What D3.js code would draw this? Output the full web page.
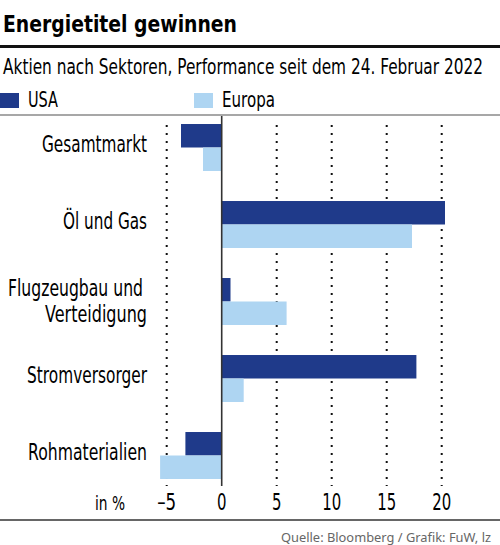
<!DOCTYPE html>
<html>
<head>
<meta charset="utf-8">
<script src="https://cdn.jsdelivr.net/npm/d3@7"></script>
<style>
  body { margin: 0; background: #fff; }
  svg { display: block; }
  .cond { font-family: "DejaVu Sans", sans-serif; }
</style>
</head>
<body>
<div id="chart"></div>
<script>
// data
var categories = ["Gesamtmarkt", "Öl und Gas", "Flugzeugbau und Verteidigung", "Stromversorger", "Rohmaterialien"]
var usa = [-3.7, 20.3, 0.8, 17.7, -3.3]
var europa = [-1.7, 17.3, 5.9, 2.0, -5.6]
var series = ["USA", "Europa"]
var ticks = [-5, 0, 5, 10, 15, 20]

var width = 500,
    height = 545

var colors = { USA: "#1f3a8a", Europa: "#aed5f2" }

// no condensed font installed, so squeeze text to the widths seen in the original
function squeeze(sel, w) {
  sel.attr("textLength", w).attr("lengthAdjust", "spacingAndGlyphs")
}

var svg = d3.select("#chart")
  .append("svg")
    .attr("width", width)
    .attr("height", height)

// title + rules
svg.append("text")
  .attr("class", "cond")
  .attr("x", 3).attr("y", 32)
  .attr("font-size", 23).attr("font-weight", "bold")
  .text("Energietitel gewinnen")
  .call(squeeze, 234)

svg.append("rect").attr("x", 0).attr("y", 45).attr("width", width).attr("height", 3).attr("fill", "#111")

svg.append("text")
  .attr("class", "cond")
  .attr("x", 3).attr("y", 74)
  .attr("font-size", 20.5)
  .text("Aktien nach Sektoren, Performance seit dem 24. Februar 2022")
  .call(squeeze, 480)

// legend
var legX = [0, 194]
var legW = [30, 53]
series.forEach(function(s, i){
  svg.append("rect").attr("x", legX[i]).attr("y", 93).attr("width", 19).attr("height", 15).attr("fill", colors[s])
  svg.append("text").attr("class", "cond")
    .attr("x", legX[i] + 28).attr("y", 107)
    .attr("font-size", 20.5)
    .text(s)
    .call(squeeze, legW[i])
})

svg.append("line").attr("x1", 0).attr("x2", width).attr("y1", 115).attr("y2", 115)
  .attr("stroke", "#8a8a8a").attr("stroke-width", 1.5)

// scales
var x = d3.scaleLinear().domain([-5, 20]).range([166.7, 441.7])
var y = d3.scaleBand().domain(categories).range([109, 494]).paddingInner(0.39).paddingOuter(0.195)
var ySub = d3.scaleBand().domain(series).range([0, y.bandwidth()])

// dotted grid
svg.append("g")
  .selectAll("line")
  .data(ticks.filter(d => d !== 0))
  .join("line")
    .attr("x1", d => x(d)).attr("x2", d => x(d))
    .attr("y1", 125).attr("y2", 486)
    .attr("stroke", "#111")
    .attr("stroke-width", 2)
    .attr("stroke-dasharray", "2,6")

// bars
var rows = categories.map((c, i) => ({ cat: c, values: [{ s: "USA", v: usa[i] }, { s: "Europa", v: europa[i] }] }))

var groups = svg.append("g")
  .selectAll("g")
  .data(rows)
  .join("g")
    .attr("transform", d => "translate(0," + y(d.cat) + ")")

groups.selectAll("rect")
  .data(d => d.values)
  .join("rect")
    .attr("x", d => x(Math.min(0, d.v)))
    .attr("width", d => Math.abs(x(d.v) - x(0)))
    .attr("y", d => ySub(d.s))
    .attr("height", ySub.bandwidth())
    .attr("fill", d => colors[d.s])

// zero line
svg.append("line")
  .attr("x1", x(0)).attr("x2", x(0))
  .attr("y1", 116).attr("y2", 486)
  .attr("stroke", "#333").attr("stroke-width", 1.6)

// category labels (line breaks + squeezed widths)
var labelLines = {
  "Flugzeugbau und Verteidigung": [["Flugzeugbau und", 135, 143], ["Verteidigung", 102, 147]]
}
var labelW = { "Gesamtmarkt": 105, "Öl und Gas": 84, "Stromversorger": 120, "Rohmaterialien": 119 }

groups.append("text")
  .attr("class", "cond")
  .attr("text-anchor", "end")
  .attr("font-size", 22.5)
  .each(function(d){
    var t = d3.select(this)
    var mid = y.bandwidth() / 2
    var lines = labelLines[d.cat]
    if (!lines) {
      t.append("tspan").attr("x", 147).attr("y", mid + 4.5).text(d.cat).call(squeeze, labelW[d.cat])
    } else {
      lines.forEach(function(l, i){
        t.append("tspan")
          .attr("x", l[2])
          .attr("y", mid + 7.5 + (i - 0.5) * 26)
          .text(l[0])
          .call(squeeze, l[1])
      })
    }
  })

// x axis labels
svg.append("g")
  .selectAll("text")
  .data(ticks)
  .join("text")
    .attr("class", "cond")
    .attr("x", d => x(d))
    .attr("y", 510)
    .attr("text-anchor", "middle")
    .attr("font-size", 23)
    .text(d => d < 0 ? "–" + Math.abs(d) : d)
    .each(function(d){
      var n = String(Math.abs(d)).length + (d < 0 ? 1 : 0)
      squeeze(d3.select(this), n * 9.5)
    })

svg.append("text")
  .attr("class", "cond")
  .attr("x", 125).attr("y", 510)
  .attr("text-anchor", "end")
  .attr("font-size", 20)
  .text("in %")
  .call(squeeze, 30)

svg.append("line").attr("x1", 0).attr("x2", width).attr("y1", 520).attr("y2", 520)
  .attr("stroke", "#333").attr("stroke-width", 1.5)

svg.append("text")
  .attr("x", 491).attr("y", 542)
  .attr("text-anchor", "end")
  .attr("font-family", "'Noto Sans', sans-serif")
  .attr("font-size", 13)
  .attr("fill", "#666")
  .text("Quelle: Bloomberg / Grafik: FuW, lz")
  .call(squeeze, 210)
</script>
</body>
</html>
